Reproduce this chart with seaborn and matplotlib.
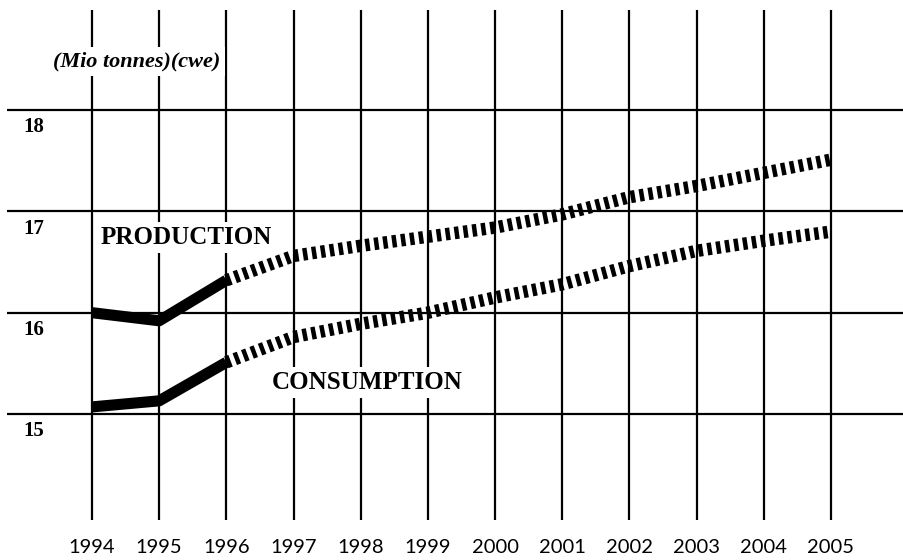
import pandas as pd
import matplotlib.pyplot as plt
import seaborn as sns

# Values (million tonnes coal equivalent)
years = [1994, 1995, 1996, 1997, 1998, 1999, 2000, 2001, 2002, 2003, 2004, 2005]
actual_years = [1994, 1995, 1996]
forecast_years = [1996, 1997, 1998, 1999, 2000, 2001, 2002, 2003, 2004, 2005]

production_actual = [16.0, 15.92, 16.32]
consumption_actual = [15.07, 15.13, 15.51]
production_forecast = [16.32, 16.56, 16.66, 16.75, 16.84, 16.97, 17.14, 17.25, 17.38, 17.51]
consumption_forecast = [15.51, 15.76, 15.89, 16.0, 16.15, 16.28, 16.46, 16.61, 16.71, 16.80]

y_levels = [15, 16, 17, 18]

sns.set_style('white')
plt.rcParams['font.family'] = ['Liberation Serif', 'DejaVu Serif']
plt.rcParams['text.color'] = 'black'
plt.rcParams['xtick.color'] = 'black'

actual = pd.DataFrame({'year': actual_years * 2,
                       'value': production_actual + consumption_actual,
                       'series': ['production'] * 3 + ['consumption'] * 3})
forecast = pd.DataFrame({'year': forecast_years * 2,
                         'value': production_forecast + consumption_forecast,
                         'series': ['production'] * 10 + ['consumption'] * 10})

fig = plt.figure(figsize=(9.04, 5.6), dpi=100)
ax = fig.add_axes([7 / 904, 40 / 560, 897 / 904, 510 / 560])

# solid part (actual)
sns.lineplot(data=actual, x='year', y='value', units='series', estimator=None,
             color='black', lw=8, solid_capstyle='butt', ax=ax, zorder=3)
n_solid = len(ax.lines)
# hatched part (forecast)
sns.lineplot(data=forecast, x='year', y='value', units='series', estimator=None,
             color='black', lw=9, ax=ax, zorder=3)
for line in ax.lines[n_solid:]:
    line.set_dashes((0.36, 0.36))
    line.set_dash_capstyle('butt')

ax.set_xlim(1992.735, 2006.087)
ax.set_ylim(13.954, 18.987)
ax.set_xticks(years)
ax.set_xticklabels([str(y) for y in years], family=['Lato', 'DejaVu Sans'], fontsize=14.5)
ax.set_yticks(y_levels)
ax.set_yticklabels([])
ax.tick_params(length=0, pad=14)
ax.grid(True, color='black', lw=1.6)
for s in ax.spines.values():
    s.set_visible(False)
ax.set_xlabel('')
ax.set_ylabel('')

for v in y_levels:
    ax.text(1992.98, v - 0.17, str(v), fontsize=15, fontweight='bold', va='center', ha='left')

box = dict(facecolor='white', edgecolor='none', pad=3)
ax.text(1994.67, 18.48, '(Mio tonnes)(cwe)', fontsize=16, fontweight='bold', style='italic',
        ha='center', va='center', bbox=box, zorder=4)
ax.text(1995.4, 16.74, 'PRODUCTION', fontsize=18, fontweight='bold',
        ha='center', va='center', bbox=box, zorder=4)
ax.text(1998.1, 15.31, 'CONSUMPTION', fontsize=18, fontweight='bold',
        ha='center', va='center', bbox=box, zorder=4)

plt.savefig('out.png', dpi=100)
